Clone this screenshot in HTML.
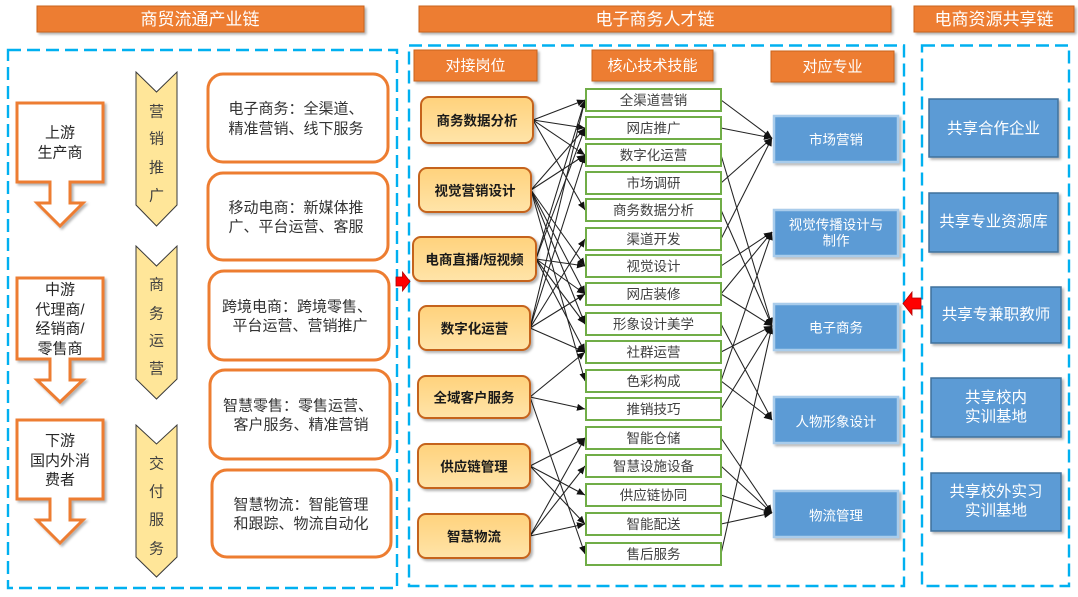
<!DOCTYPE html>
<html>
<head>
<meta charset="utf-8">
<style>
  html,body{margin:0;padding:0;background:#ffffff;}
  body{width:1078px;height:597px;overflow:hidden;}
  svg{display:block;}
  text{font-family:"Liberation Sans","Noto Sans CJK SC",sans-serif;}
</style>
</head>
<body>
<svg width="1078" height="597" viewBox="0 0 1078 597" xmlns="http://www.w3.org/2000/svg">
  <defs>
    <marker id="ah" markerWidth="8" markerHeight="7" refX="8" refY="3.5" orient="auto" markerUnits="userSpaceOnUse">
      <path d="M0,0 L8,3.5 L0,7 Z" fill="#111"/>
    </marker>
    <linearGradient id="jobg" x1="0" y1="0" x2="0" y2="1">
      <stop offset="0" stop-color="#FFD27C"/>
      <stop offset="1" stop-color="#FFE4A9"/>
    </linearGradient>
    <filter id="sh" x="-10%" y="-10%" width="130%" height="140%">
      <feDropShadow dx="2" dy="2" stdDeviation="1.2" flood-color="#000" flood-opacity="0.3"/>
    </filter>
  </defs>

  <!-- Top header bars -->
  <g filter="url(#sh)">
    <rect x="37" y="6" width="327" height="26" fill="#ED7D31" stroke="#C9641F" stroke-width="1"/>
    <rect x="419" y="6" width="472" height="26" fill="#ED7D31" stroke="#C9641F" stroke-width="1"/>
    <rect x="914" y="6" width="160" height="26" fill="#ED7D31" stroke="#C9641F" stroke-width="1"/>
  </g>
  <g fill="#fff" font-size="17" text-anchor="middle" dominant-baseline="central">
    <text x="200" y="19.5">商贸流通产业链</text>
    <text x="655" y="19.5">电子商务人才链</text>
    <text x="994" y="19.5">电商资源共享链</text>
  </g>

  <!-- Dashed containers -->
  <g fill="none" stroke="#00B0F0" stroke-width="2.4" stroke-dasharray="13 6">
    <rect x="8" y="50" width="389" height="538"/>
    <rect x="409" y="45.5" width="495" height="540.5"/>
    <rect x="922" y="45.5" width="147" height="540.5"/>
  </g>

  <!-- Left block arrows -->
  <g fill="#fff" stroke="#ED7D31" stroke-width="3" filter="url(#sh)">
    <polygon points="17,103 103,103 103,182 70,182 70,203 83,203 60,226 37,203 50,203 50,182 17,182"/>
    <polygon points="17,278 103,278 103,359 70,359 70,380 83,380 60,402 37,380 50,380 50,359 17,359"/>
    <polygon points="17,420 103,420 103,499 70,499 70,520 83,520 60,543 37,520 50,520 50,499 17,499"/>
  </g>
  <g fill="#262626" font-size="15" text-anchor="middle" dominant-baseline="central">
    <text x="60" y="133">上游</text>
    <text x="60" y="153">生产商</text>
    <text x="60" y="290">中游</text>
    <text x="60" y="310">代理商/</text>
    <text x="60" y="329">经销商/</text>
    <text x="60" y="349">零售商</text>
    <text x="60" y="441">下游</text>
    <text x="60" y="461">国内外消</text>
    <text x="60" y="480">费者</text>
  </g>

  <!-- Chevrons -->
  <g fill="#FFE699" stroke="#3a3a3a" stroke-width="1">
    <polygon points="136,72 156.5,92 177,72 177,205 156.5,226 136,205"/>
    <polygon points="136,246 156.5,266 177,246 177,379 156.5,399 136,379"/>
    <polygon points="136,425 156.5,444 177,425 177,557 156.5,577 136,557"/>
  </g>
  <g fill="#404040" font-size="15" text-anchor="middle" dominant-baseline="central">
    <text x="156.5" y="112">营</text>
    <text x="156.5" y="139">销</text>
    <text x="156.5" y="168">推</text>
    <text x="156.5" y="196">广</text>
    <text x="156.5" y="285">商</text>
    <text x="156.5" y="314">务</text>
    <text x="156.5" y="341">运</text>
    <text x="156.5" y="369">营</text>
    <text x="156.5" y="464">交</text>
    <text x="156.5" y="492">付</text>
    <text x="156.5" y="520">服</text>
    <text x="156.5" y="549">务</text>
  </g>

  <!-- Rounded description boxes -->
  <g fill="#fff" stroke="#ED7D31" stroke-width="3">
    <rect x="208" y="74" width="180" height="88" rx="15"/>
    <rect x="208" y="173" width="180" height="87" rx="15"/>
    <rect x="209" y="271" width="180" height="89" rx="15"/>
    <rect x="210" y="370" width="180" height="89" rx="15"/>
    <rect x="212" y="470" width="179" height="87" rx="15"/>
  </g>
  <g fill="#333" font-size="15" text-anchor="middle" dominant-baseline="central">
    <text x="296" y="109">电子商务：全渠道、</text>
    <text x="296" y="129">精准营销、线下服务</text>
    <text x="296" y="208">移动电商：新媒体推</text>
    <text x="296" y="227">广、平台运营、客服</text>
    <text x="297" y="307">跨境电商：跨境零售、</text>
    <text x="300" y="326">平台运营、营销推广</text>
    <text x="298" y="406">智慧零售：零售运营、</text>
    <text x="301" y="425">客户服务、精准营销</text>
    <text x="301" y="505">智慧物流：智能管理</text>
    <text x="301" y="524">和跟踪、物流自动化</text>
  </g>

  <!-- Red arrows -->
  <polygon points="396,277 402.5,277 402.5,272 410,281.5 402.5,291 402.5,286 396,286" fill="#FF0000" stroke="#B00000" stroke-width="0.8"/>
  <polygon points="921,298 912,298 912,292 903,303.5 912,315 912,309 921,309" fill="#FF0000" stroke="#B00000" stroke-width="0.8"/>

  <!-- Middle sub-headers -->
  <g filter="url(#sh)">
    <rect x="414" y="50" width="123" height="31" fill="#ED7D31" stroke="#C9641F" stroke-width="1"/>
    <rect x="592" y="50" width="121" height="31" fill="#ED7D31" stroke="#C9641F" stroke-width="1"/>
    <rect x="771" y="51" width="123" height="31" fill="#ED7D31" stroke="#C9641F" stroke-width="1"/>
  </g>
  <g fill="#fff" font-size="15" text-anchor="middle" dominant-baseline="central">
    <text x="475.5" y="66">对接岗位</text>
    <text x="652.5" y="66">核心技术技能</text>
    <text x="832.5" y="67">对应专业</text>
  </g>

  <!-- Connectors: job -> skill -->
  <g stroke="#222" stroke-width="1.05" fill="none" marker-end="url(#ah)">
    <!-- 商务数据分析 -->
    <line x1="533" y1="120" x2="585" y2="100"/>
    <line x1="533" y1="120" x2="585" y2="128"/>
    <line x1="533" y1="120" x2="585" y2="155"/>
    <line x1="533" y1="120" x2="585" y2="210"/>
    <!-- 视觉营销设计 -->
    <line x1="531" y1="190" x2="585" y2="128"/>
    <line x1="531" y1="190" x2="585" y2="155"/>
    <line x1="531" y1="190" x2="585" y2="266"/>
    <line x1="531" y1="190" x2="585" y2="294"/>
    <line x1="531" y1="190" x2="585" y2="324"/>
    <line x1="531" y1="190" x2="585" y2="381"/>
    <!-- 电商直播/短视频 -->
    <line x1="536" y1="259" x2="585" y2="100"/>
    <line x1="536" y1="259" x2="585" y2="128"/>
    <line x1="536" y1="259" x2="585" y2="266"/>
    <line x1="536" y1="259" x2="585" y2="294"/>
    <line x1="536" y1="259" x2="585" y2="324"/>
    <line x1="536" y1="259" x2="585" y2="352"/>
    <!-- 数字化运营 -->
    <line x1="530" y1="328" x2="585" y2="100"/>
    <line x1="530" y1="328" x2="585" y2="155"/>
    <line x1="530" y1="328" x2="585" y2="239"/>
    <line x1="530" y1="328" x2="585" y2="294"/>
    <line x1="530" y1="328" x2="585" y2="352"/>
    <!-- 全域客户服务 -->
    <line x1="530" y1="397" x2="585" y2="352"/>
    <line x1="530" y1="397" x2="585" y2="409"/>
    <line x1="530" y1="397" x2="585" y2="554"/>
    <!-- 供应链管理 -->
    <line x1="530" y1="466" x2="585" y2="438"/>
    <line x1="530" y1="466" x2="585" y2="495"/>
    <line x1="530" y1="466" x2="585" y2="524"/>
    <!-- 智慧物流 -->
    <line x1="530" y1="536" x2="585" y2="438"/>
    <line x1="530" y1="536" x2="585" y2="466"/>
    <line x1="530" y1="536" x2="585" y2="524"/>
  </g>

  <!-- Connectors: skill -> major -->
  <g stroke="#222" stroke-width="1.05" fill="none" marker-end="url(#ah)">
    <line x1="721" y1="100" x2="772" y2="138"/>
    <line x1="721" y1="128" x2="772" y2="138"/>
    <line x1="721" y1="155" x2="772" y2="326"/>
    <line x1="721" y1="183" x2="772" y2="138"/>
    <line x1="721" y1="210" x2="772" y2="326"/>
    <line x1="721" y1="239" x2="772" y2="138"/>
    <line x1="721" y1="266" x2="772" y2="232"/>
    <line x1="721" y1="294" x2="772" y2="232"/>
    <line x1="721" y1="294" x2="772" y2="326"/>
    <line x1="721" y1="324" x2="772" y2="420"/>
    <line x1="721" y1="352" x2="772" y2="326"/>
    <line x1="721" y1="381" x2="772" y2="232"/>
    <line x1="721" y1="381" x2="772" y2="420"/>
    <line x1="721" y1="409" x2="772" y2="326"/>
    <line x1="721" y1="438" x2="772" y2="513"/>
    <line x1="721" y1="466" x2="772" y2="513"/>
    <line x1="721" y1="495" x2="772" y2="513"/>
    <line x1="721" y1="524" x2="772" y2="513"/>
    <line x1="721" y1="554" x2="772" y2="326"/>
  </g>

  <!-- Job boxes -->
  <g fill="url(#jobg)" stroke="#C5631C" stroke-width="2" filter="url(#sh)">
    <rect x="421" y="97" width="112" height="46" rx="8"/>
    <rect x="419" y="168" width="112" height="44" rx="8"/>
    <rect x="413" y="237" width="123" height="44" rx="8"/>
    <rect x="419" y="306" width="111" height="44" rx="8"/>
    <rect x="418" y="376" width="112" height="42" rx="8"/>
    <rect x="418" y="444" width="112" height="44" rx="8"/>
    <rect x="418" y="514" width="112" height="44" rx="8"/>
  </g>
  <g fill="#1a1a1a" font-size="13.5" font-weight="bold" text-anchor="middle" dominant-baseline="central">
    <text x="477" y="121">商务数据分析</text>
    <text x="475" y="191">视觉营销设计</text>
    <text x="474.5" y="260">电商直播/短视频</text>
    <text x="474.5" y="329">数字化运营</text>
    <text x="474" y="398">全域客户服务</text>
    <text x="474" y="467">供应链管理</text>
    <text x="474" y="537">智慧物流</text>
  </g>

  <!-- Skill boxes -->
  <g fill="#fff" stroke="#70AD47" stroke-width="2">
    <rect x="586" y="89" width="135" height="22"/>
    <rect x="586" y="117" width="135" height="22"/>
    <rect x="586" y="144" width="135" height="22"/>
    <rect x="586" y="172" width="135" height="22"/>
    <rect x="586" y="199" width="135" height="22"/>
    <rect x="586" y="228" width="135" height="22"/>
    <rect x="586" y="255" width="135" height="22"/>
    <rect x="586" y="283" width="135" height="22"/>
    <rect x="586" y="313" width="135" height="22"/>
    <rect x="586" y="341" width="135" height="22"/>
    <rect x="586" y="370" width="135" height="22"/>
    <rect x="586" y="398" width="135" height="22"/>
    <rect x="586" y="427" width="135" height="22"/>
    <rect x="586" y="455" width="135" height="22"/>
    <rect x="586" y="484" width="135" height="22"/>
    <rect x="586" y="513" width="135" height="22"/>
    <rect x="586" y="543" width="135" height="22"/>
  </g>
  <g fill="#404040" font-size="13.5" text-anchor="middle" dominant-baseline="central">
    <text x="653.5" y="100.5">全渠道营销</text>
    <text x="653.5" y="128.5">网店推广</text>
    <text x="653.5" y="155.5">数字化运营</text>
    <text x="653.5" y="183.5">市场调研</text>
    <text x="653.5" y="210.5">商务数据分析</text>
    <text x="653.5" y="239.5">渠道开发</text>
    <text x="653.5" y="266.5">视觉设计</text>
    <text x="653.5" y="294.5">网店装修</text>
    <text x="653.5" y="324.5">形象设计美学</text>
    <text x="653.5" y="352.5">社群运营</text>
    <text x="653.5" y="381.5">色彩构成</text>
    <text x="653.5" y="409.5">推销技巧</text>
    <text x="653.5" y="438.5">智能仓储</text>
    <text x="653.5" y="466.5">智慧设施设备</text>
    <text x="653.5" y="495.5">供应链协同</text>
    <text x="653.5" y="524.5">智能配送</text>
    <text x="653.5" y="554.5">售后服务</text>
  </g>

  <!-- Major boxes -->
  <g fill="#5B9BD5" stroke="#A9CCEB" stroke-width="2.5" filter="url(#sh)">
    <rect x="774" y="116" width="124" height="46"/>
    <rect x="774" y="210" width="124" height="46"/>
    <rect x="774" y="304" width="124" height="46"/>
    <rect x="774" y="397" width="124" height="46"/>
    <rect x="774" y="491" width="124" height="46"/>
  </g>
  <g fill="#fff" font-size="13.5" text-anchor="middle" dominant-baseline="central">
    <text x="836" y="140">市场营销</text>
    <text x="836" y="225">视觉传播设计与</text>
    <text x="836" y="241">制作</text>
    <text x="836" y="328">电子商务</text>
    <text x="836" y="422">人物形象设计</text>
    <text x="836" y="516">物流管理</text>
  </g>

  <!-- Right shared resource boxes -->
  <g fill="#5B9BD5" stroke="#41719C" stroke-width="1.5" filter="url(#sh)">
    <rect x="929" y="99" width="129" height="58"/>
    <rect x="929" y="193" width="129" height="59"/>
    <rect x="931" y="287" width="130" height="56"/>
    <rect x="931" y="378" width="130" height="59"/>
    <rect x="931" y="473" width="130" height="58"/>
  </g>
  <g fill="#fff" font-size="15.5" text-anchor="middle" dominant-baseline="central">
    <text x="993.5" y="129">共享合作企业</text>
    <text x="993.5" y="222">共享专业资源库</text>
    <text x="996" y="315">共享专兼职教师</text>
    <text x="996" y="398">共享校内</text>
    <text x="996" y="417">实训基地</text>
    <text x="996" y="492">共享校外实习</text>
    <text x="996" y="511">实训基地</text>
  </g>
</svg>
</body>
</html>
